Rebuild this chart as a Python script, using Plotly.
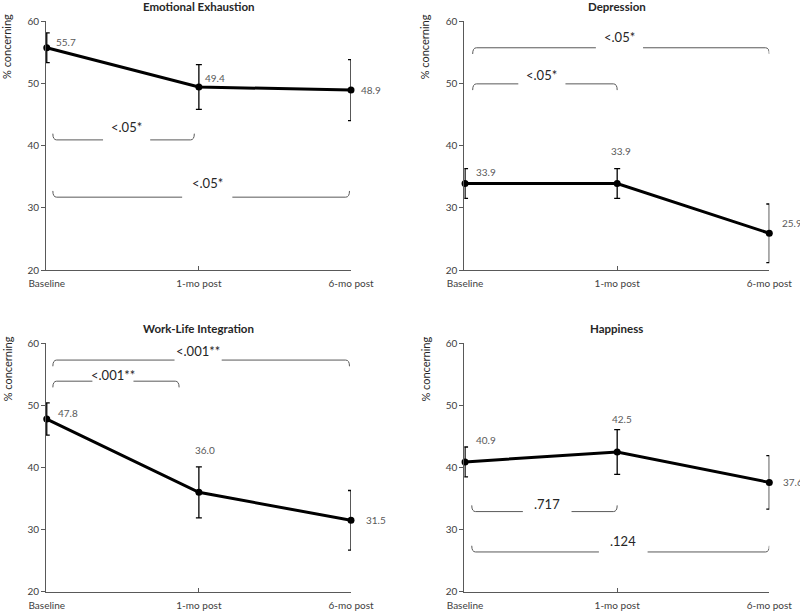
import plotly.graph_objects as go

categories = ["Baseline", "1-mo post", "6-mo post"]
titles = ["Emotional Exhaustion", "Depression", "Work-Life Integration", "Happiness"]

ee_values = [55.7, 49.4, 48.9]
ee_err = [2.4, 3.6, 4.9]
dep_values = [33.9, 33.9, 25.9]
dep_err = [2.4, 2.4, 4.7]
wli_values = [47.8, 36.0, 31.5]
wli_err = [2.6, 4.1, 4.8]
hap_values = [40.9, 42.5, 37.6]
hap_err = [2.4, 3.6, 4.3]

y_ticks = [20, 30, 40, 50, 60]
y_title = "% concerning"

# significance brackets: (x start, x end, line level, tip direction, gap start, gap end, p label, label level)
ee_brackets = [(0.04, 0.97, 40.9, 1, 0.37, 0.68, "<.05*", 43.0),
               (0.04, 1.99, 31.7, 1, 0.89, 1.22, "<.05*", 34.0)]
dep_brackets = [(0.05, 2.0, 55.7, -1, 0.86, 1.17, "<.05*", 57.4),
                (0.05, 1.0, 49.9, -1, 0.35, 0.66, "<.05*", 51.4)]
wli_brackets = [(0.04, 1.99, 57.3, -1, 0.84, 1.15, "<.001**", 58.8),
                (0.04, 0.87, 53.9, -1, 0.30, 0.57, "<.001**", 54.9)]
hap_brackets = [(0.044, 1.0, 32.9, 1, 0.38, 0.70, ".717", 34.1),
                (0.044, 2.0, 26.4, 1, 0.88, 1.20, ".124", 28.2)]

# data label offsets in px: (xshift, yshift, xanchor)
ee_lbl = [(7, 6, "left"), (4, 9, "left"), (8, 0, "left")]
dep_lbl = [(9, 11, "left"), (4, 32, "center"), (11, 10, "left")]
wli_lbl = [(9, 6, "left"), (6, 42, "center"), (13, 0, "left")]
hap_lbl = [(9, 22, "left"), (5, 33, "center"), (12, 0, "left")]

panels = [
    (ee_values, ee_err, ee_brackets, ee_lbl),
    (dep_values, dep_err, dep_brackets, dep_lbl),
    (wli_values, wli_err, wli_brackets, wli_lbl),
    (hap_values, hap_err, hap_brackets, hap_lbl),
]

W, H = 800, 611
FONT = "Lato"
AXIS_COLOR = "#595959"

# pixel layout of the four plot areas (left, right, top, bottom)
boxes = [(46, 351, 21, 270), (464.3, 769.3, 21, 270),
         (46, 351, 343.3, 591.7), (464.3, 769.3, 343.3, 591.7)]

fig = go.Figure()
annotations = []
shapes = []
xs = list(range(len(categories)))

for i, ((vals, errs, brackets, lbls), box, title) in enumerate(zip(panels, boxes, titles)):
    n = "" if i == 0 else str(i + 1)
    xa, ya = "x" + n, "y" + n
    l, r, t, b = box
    fig.add_trace(go.Scatter(
        x=xs, y=vals, xaxis=xa, yaxis=ya, mode="lines+markers",
        line=dict(color="black", width=3),
        marker=dict(color="black", size=7),
        error_y=dict(type="data", array=errs, color="black", thickness=1.3, width=3),
        showlegend=False, cliponaxis=False, hoverinfo="skip",
    ))
    fig.layout["xaxis" + n] = dict(
        domain=[l / W, r / W], anchor=ya, range=[-0.005, 2.0],
        tickmode="array", tickvals=xs, ticktext=categories,
        showline=True, linecolor=AXIS_COLOR, linewidth=1,
        ticks="inside", ticklen=4, tickcolor=AXIS_COLOR, ticklabelstandoff=4,
        showgrid=False, zeroline=False, automargin=False,
        tickfont=dict(family=FONT, size=10, color="#404040"),
    )
    fig.layout["yaxis" + n] = dict(
        domain=[1 - b / H, 1 - t / H], anchor=xa, range=[20, 60],
        tickmode="array", tickvals=y_ticks,
        showline=True, linecolor=AXIS_COLOR, linewidth=1,
        ticks="outside", ticklen=4, tickcolor=AXIS_COLOR,
        showgrid=False, zeroline=False, automargin=False,
        tickfont=dict(family=FONT, size=10, color="#404040"),
    )
    # title
    annotations.append(dict(
        xref="paper", yref="paper", x=(l + r) / 2 / W, y=1 - (t - 15) / H,
        text="<b>" + title + "</b>", showarrow=False,
        font=dict(family=FONT, size=11.5, color="#262626"),
        xanchor="center", yanchor="middle",
    ))
    # y axis title
    annotations.append(dict(
        xref="paper", yref="paper", x=(l - 39) / W, y=1 - (t + 26) / H,
        text=y_title, showarrow=False, textangle=-90,
        font=dict(family=FONT, size=11, color="#262626"),
        xanchor="center", yanchor="middle",
    ))
    # data labels
    for xv, yv, (dx, dy, anc) in zip(xs, vals, lbls):
        annotations.append(dict(
            xref=xa, yref=ya, x=xv, y=yv, text=f"{yv:.1f}", showarrow=False,
            xshift=dx, yshift=dy, xanchor=anc, yanchor="middle",
            font=dict(family=FONT, size=10, color="#595959"),
        ))
    # brackets
    for (x0, x1, yl, d, g0, g1, lab, ly) in brackets:
        tip = yl + d * 1.0
        c = 0.025
        path = (f"M {x0},{tip} Q {x0},{yl} {x0 + c},{yl} L {g0},{yl} "
                f"M {g1},{yl} L {x1 - c},{yl} Q {x1},{yl} {x1},{tip}")
        shapes.append(dict(type="path", xref=xa, yref=ya, path=path,
                           line=dict(color=AXIS_COLOR, width=1)))
        annotations.append(dict(
            xref=xa, yref=ya, x=(g0 + g1) / 2, y=ly, text=lab, showarrow=False,
            xanchor="center", yanchor="middle",
            font=dict(family=FONT, size=13, color="#262626"),
        ))

fig.update_layout(
    width=W, height=H, margin=dict(l=0, r=0, t=0, b=0),
    paper_bgcolor="white", plot_bgcolor="white",
    annotations=annotations, shapes=shapes,
    font=dict(family=FONT), hovermode=False,
)

fig.write_html("out.html", config={"displayModeBar": False, "staticPlot": True},
               post_script="document.body.style.margin='0px';document.body.style.overflow='hidden';")
